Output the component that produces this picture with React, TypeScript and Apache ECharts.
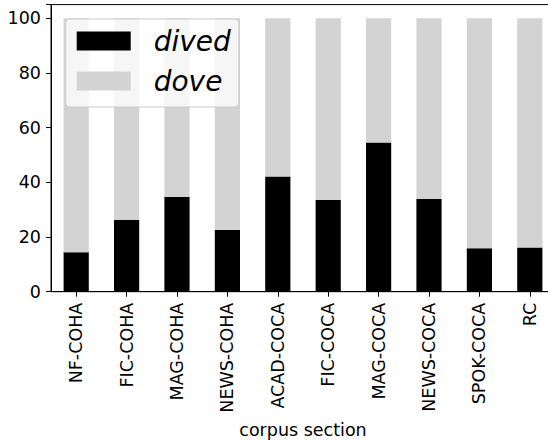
import React, { useEffect, useRef } from "react";
import * as echarts from "echarts";

const categories = [
  "NF-COHA",
  "FIC-COHA",
  "MAG-COHA",
  "NEWS-COHA",
  "ACAD-COCA",
  "FIC-COCA",
  "MAG-COCA",
  "NEWS-COCA",
  "SPOK-COCA",
  "RC",
];
const dived = [14.4, 26.3, 34.6, 22.6, 42.1, 33.5, 54.6, 33.9, 15.9, 16.2];
const dove = [85.6, 73.7, 65.4, 77.4, 57.9, 66.5, 45.4, 66.1, 84.1, 83.8];
const yTicks = [0, 20, 40, 60, 80, 100];

const FONT = "DejaVu Sans";

export default function App() {
  const ref = useRef<HTMLDivElement>(null);
  useEffect(() => {
    if (!ref.current) return;
    const chart = echarts.init(ref.current, null, { renderer: "svg" });
    chart.setOption({
      animation: false,
      backgroundColor: "#ffffff",
      textStyle: { fontFamily: FONT },
      grid: {
        left: 51,
        top: 4.6,
        right: -7,
        bottom: 149.3,
        containLabel: false,
        outerBoundsMode: "none",
        show: true,
        borderColor: "#000000",
        borderWidth: 1,
        backgroundColor: "transparent",
      },
      legend: {
        orient: "vertical",
        left: 65.7,
        top: 19,
        padding: [8, 8, 12, 11],
        itemWidth: 54,
        itemHeight: 19,
        itemGap: 12,
        icon: "rect",
        backgroundColor: "rgba(255,255,255,0.8)",
        borderColor: "#cccccc",
        borderWidth: 1,
        borderRadius: 4,
        textStyle: {
          fontFamily: FONT,
          fontStyle: "italic",
          fontSize: 28,
          color: "#000000",
          padding: [0, 0, 0, 18],
        },
        data: ["dived", "dove"],
      },
      xAxis: {
        type: "category",
        data: categories,
        name: "corpus section",
        nameLocation: "middle",
        nameGap: 129,
        nameTextStyle: { fontFamily: FONT, fontSize: 17.5, color: "#000000" },
        axisLine: { show: true, lineStyle: { color: "#000000", width: 1 } },
        axisTick: {
          show: true,
          alignWithLabel: true,
          length: 5,
          lineStyle: { color: "#000000", width: 1 },
        },
        axisLabel: {
          rotate: 90,
          margin: 11,
          fontFamily: FONT,
          fontSize: 17.5,
          color: "#000000",
          interval: 0,
        },
        splitLine: { show: false },
      },
      yAxis: {
        type: "value",
        min: 0,
        max: 105,
        interval: 20,
        axisLine: { show: true, lineStyle: { color: "#000000", width: 1 } },
        axisTick: {
          show: true,
          length: 5,
          lineStyle: { color: "#000000", width: 1 },
        },
        axisLabel: {
          margin: 10,
          fontFamily: FONT,
          fontSize: 17.5,
          color: "#000000",
          formatter: (v: number) => (yTicks.includes(v) ? String(v) : ""),
        },
        splitLine: { show: false },
      },
      series: [
        {
          name: "dived",
          type: "bar",
          stack: "total",
          data: dived,
          barWidth: "50%",
          itemStyle: { color: "#000000" },
        },
        {
          name: "dove",
          type: "bar",
          stack: "total",
          data: dove,
          barWidth: "50%",
          itemStyle: { color: "#d3d3d3" },
        },
      ],
    });
    return () => chart.dispose();
  }, []);
  return (
    <div
      ref={ref}
      style={{ position: "fixed", left: 0, top: 0, width: 548, height: 441 }}
    />
  );
}
